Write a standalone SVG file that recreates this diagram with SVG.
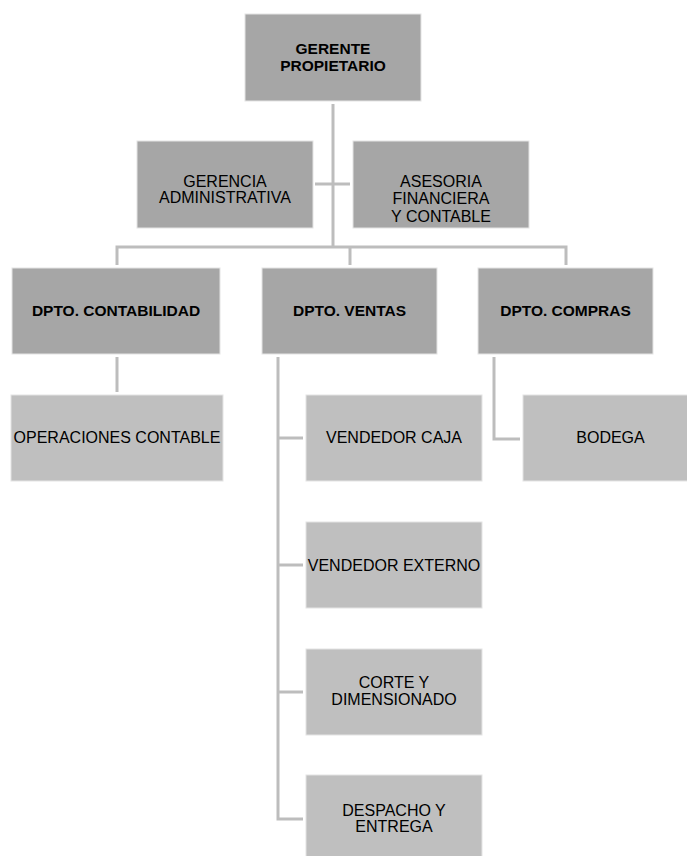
<svg xmlns="http://www.w3.org/2000/svg" width="687" height="856" viewBox="0 0 687 856">
<style>
.dark{fill:#a6a6a6;stroke:#e4e4e4;stroke-width:1}
.light{fill:#bfbfbf;stroke:#e4e4e4;stroke-width:1}
text{font-family:"Liberation Sans",Arial,sans-serif;font-size:16px;fill:#000;text-anchor:middle}
.b{font-weight:bold;font-size:15.5px}
.c{fill:none;stroke:#bdbdbd;stroke-width:3}
</style>
<rect width="687" height="856" fill="#fff"/>
<g id="connectors">
<path class="c" d="M333,104 V247"/>
<path class="c" d="M315,184 H350"/>
<path class="c" d="M117,265 V247 H566 V265"/>
<path class="c" d="M350,247 V265"/>
<path class="c" d="M117,357 V392"/>
<path class="c" d="M278,357 V819 H303"/>
<path class="c" d="M278,438 H303 M278,565 H303 M278,692 H303"/>
<path class="c" d="M494,357 V439 H520"/>
</g>
<g id="gerente"><rect class="dark" x="245" y="14" width="176" height="87"/><text class="b" x="333" y="54">GERENTE</text><text class="b" x="333" y="70.5">PROPIETARIO</text></g>
<g id="gerencia"><rect class="dark" x="137" y="141" width="176" height="87"/><text x="225" y="187">GERENCIA</text><text x="225" y="203">ADMINISTRATIVA</text></g>
<g id="asesoria"><rect class="dark" x="353" y="141" width="176" height="87"/><text x="441" y="186.5">ASESORIA</text><text x="441" y="203.5">FINANCIERA</text><text x="441" y="222">Y CONTABLE</text></g>
<g id="contabilidad"><rect class="dark" x="12" y="268" width="208" height="86"/><text class="b" x="116" y="316">DPTO. CONTABILIDAD</text></g>
<g id="ventas"><rect class="dark" x="262" y="268" width="175" height="86"/><text class="b" x="349.5" y="316">DPTO. VENTAS</text></g>
<g id="compras"><rect class="dark" x="478" y="268" width="175" height="86"/><text class="b" x="565.5" y="316">DPTO. COMPRAS</text></g>
<g id="operaciones"><rect class="light" x="11" y="395" width="212" height="86"/><text x="117" y="443">OPERACIONES CONTABLE</text></g>
<g id="caja"><rect class="light" x="306" y="395" width="176" height="86"/><text x="394" y="443">VENDEDOR CAJA</text></g>
<g id="bodega"><rect class="light" x="523" y="395" width="175" height="86"/><text x="610.5" y="443">BODEGA</text></g>
<g id="externo"><rect class="light" x="306" y="522" width="176" height="86"/><text x="394" y="571">VENDEDOR EXTERNO</text></g>
<g id="corte"><rect class="light" x="306" y="649" width="176" height="86"/><text x="394" y="688">CORTE Y</text><text x="394" y="705">DIMENSIONADO</text></g>
<g id="despacho"><rect class="light" x="306" y="775" width="176" height="86"/><text x="394" y="816">DESPACHO Y</text><text x="394" y="832">ENTREGA</text></g>
</svg>
